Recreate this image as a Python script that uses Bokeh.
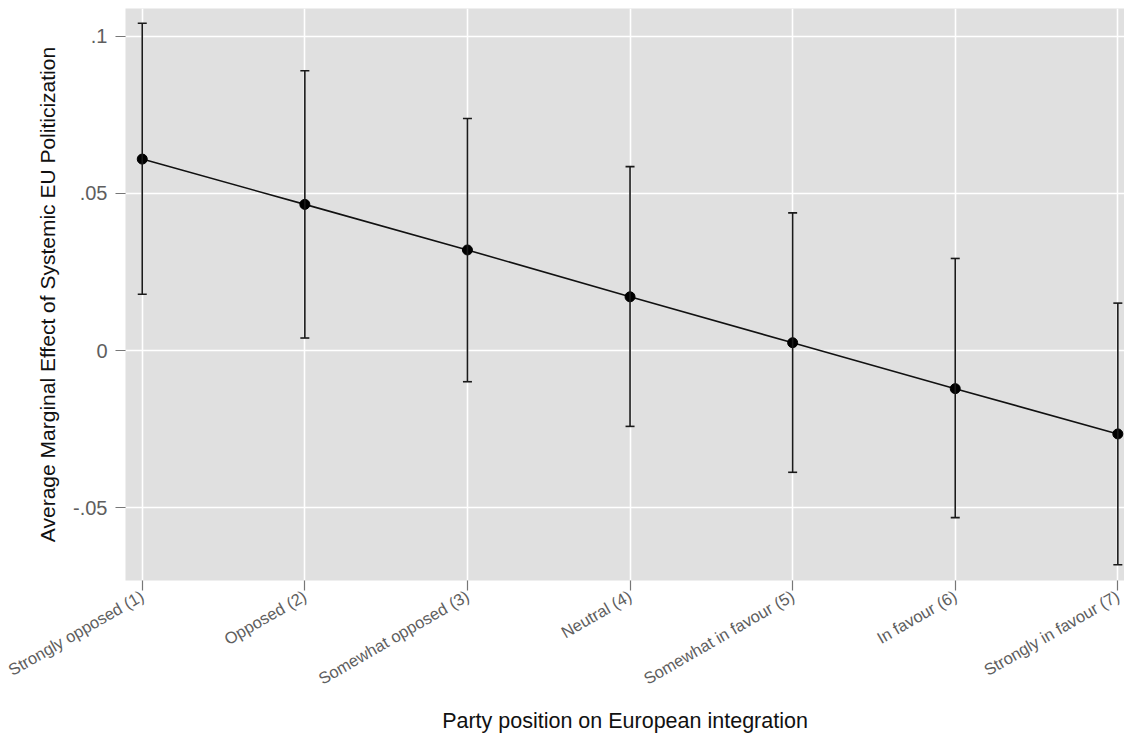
import math
from bokeh.plotting import figure
from bokeh.models import FixedTicker, Range1d, Whisker, ColumnDataSource, TeeHead
from bokeh.embed import file_html
from bokeh.resources import INLINE

categories = ["Strongly opposed (1)", "Opposed (2)", "Somewhat opposed (3)", "Neutral (4)",
              "Somewhat in favour (5)", "In favour (6)", "Strongly in favour (7)"]
positions = [1, 2, 3, 4, 5, 6, 7]
ame = [0.0609, 0.0465, 0.0320, 0.0171, 0.0025, -0.0121, -0.0265]
ci_lower = [0.0179, 0.0040, -0.0099, -0.0241, -0.0387, -0.0531, -0.0681]
ci_upper = [0.1041, 0.0890, 0.0738, 0.0585, 0.0438, 0.0293, 0.0151]
y_ticks = [-0.05, 0, 0.05, 0.1]
y_tick_labels = ["-.05", "0", ".05", ".1"]

FONT = "Liberation Sans"

src = ColumnDataSource(dict(x=positions, y=ame, lower=ci_lower, upper=ci_upper))

p = figure(width=1124, height=736, output_backend="svg", toolbar_location=None,
           x_range=Range1d(0.897, 7.041), y_range=Range1d(-0.07311, 0.10879),
           min_border_left=125, min_border_right=0, min_border_top=8, min_border_bottom=155)

p.background_fill_color = "#e0e0e0"
p.border_fill_color = "white"
p.outline_line_color = None

p.xgrid.ticker = FixedTicker(ticks=positions)
p.ygrid.ticker = FixedTicker(ticks=y_ticks)
for g in (p.xgrid, p.ygrid):
    g.grid_line_color = "white"
    g.grid_line_width = 1.6

p.xaxis.ticker = FixedTicker(ticks=positions)
p.xaxis.major_label_overrides = {pos: lab for pos, lab in zip(positions, categories)}
p.yaxis.ticker = FixedTicker(ticks=y_ticks)
p.yaxis.major_label_overrides = {t: l for t, l in zip(y_ticks, y_tick_labels)}

for ax in (p.xaxis[0], p.yaxis[0]):
    ax.axis_line_color = None
    ax.major_tick_line_color = "#777777"
    ax.major_tick_line_width = 1.2
    ax.major_tick_in = 0
    ax.major_tick_out = 10
    ax.minor_tick_line_color = None
    ax.major_label_text_color = "#5e5e5e"
    ax.major_label_text_font = FONT
    ax.axis_label_text_font = FONT
    ax.axis_label_text_font_style = "normal"
    ax.axis_label_text_color = "#111111"
    ax.axis_label_text_font_size = "21px"

p.xaxis.major_label_text_font_size = "16.5px"
p.xaxis.major_label_orientation = math.radians(30)
p.xaxis.major_label_standoff = 4
p.xaxis.axis_label = "Party position on European integration"
p.xaxis.axis_label_text_font_size = "21.5px"
p.xaxis.axis_label_standoff = 11

p.yaxis.major_label_text_font_size = "20px"
p.yaxis.major_label_standoff = 8
p.yaxis.axis_label = "Average Marginal Effect of Systemic EU Politicization"
p.yaxis.axis_label_standoff = 11

wh = Whisker(source=src, base="x", upper="upper", lower="lower",
             line_color="#1a1a1a", line_width=1.6, level="glyph",
             upper_head=TeeHead(size=9, line_color="#1a1a1a", line_width=1.6),
             lower_head=TeeHead(size=9, line_color="#1a1a1a", line_width=1.6))
p.add_layout(wh)

p.line("x", "y", source=src, line_color="#111111", line_width=1.6)
p.scatter("x", "y", source=src, size=10, fill_color="black", line_color="black")

open("out.html", "w").write(file_html(p, INLINE))
